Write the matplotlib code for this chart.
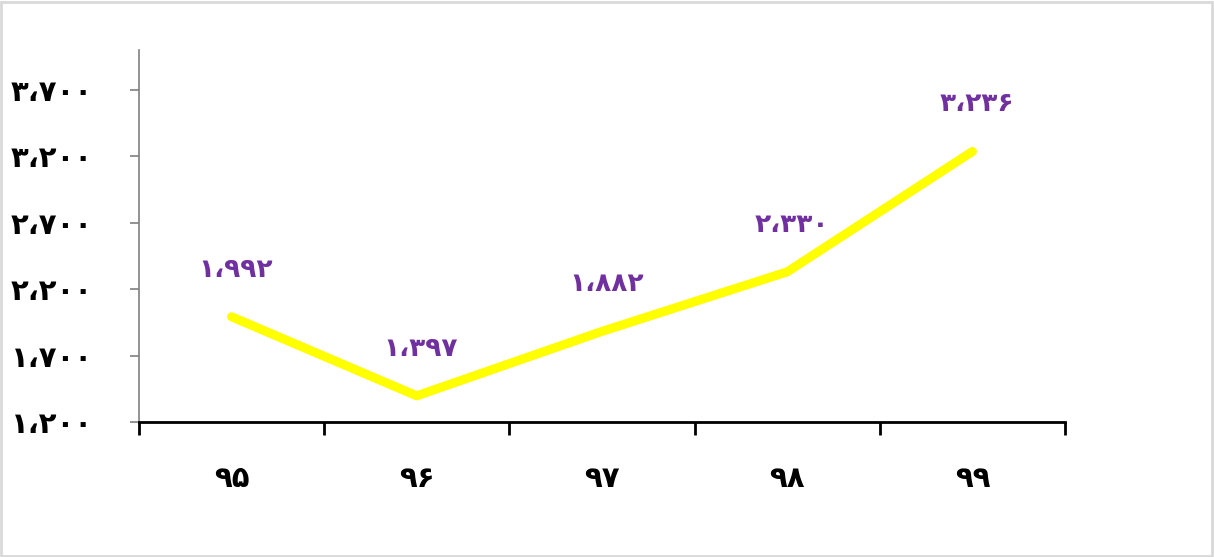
"""Yearly totals, Persian labels, yellow line."""

import matplotlib

matplotlib.use("Agg")

import matplotlib.pyplot as plt
from matplotlib.patches import Rectangle

years = ["۹۵", "۹۶", "۹۷", "۹۸", "۹۹"]
values = [1992, 1397, 1882, 2330, 3236]
y_ticks = [1200, 1700, 2200, 2700, 3200, 3700]

FA_DIGITS = str.maketrans("0123456789", "۰۱۲۳۴۵۶۷۸۹")


def fa_number(n):
    return f"{n:,}".replace(",", "،").translate(FA_DIGITS)


plt.rcParams["font.family"] = ["DejaVu Sans"]

fig = plt.figure(figsize=(12.14, 5.57), dpi=100)
ax = fig.add_axes([139 / 1214, 1 - 422 / 557, 926 / 1214, 372 / 557])

x = list(range(len(years)))
ax.plot(x, values, color="#FFFF00", lw=6.5, solid_capstyle="round",
        solid_joinstyle="round", zorder=3)
for xi, v in zip(x, values):
    ax.annotate(fa_number(v), (xi, v), xytext=(3, 34), textcoords="offset points",
                ha="center", va="center", color="#7030A0", fontsize=19,
                fontweight="bold")

ax.set_xlim(-0.5, len(years) - 0.5)
ax.set_ylim(1200, 4000)
ax.set_yticks(y_ticks)
ax.set_yticklabels([fa_number(t) for t in y_ticks], fontsize=21, fontweight="bold")
ax.set_xticks(x)
ax.set_xticklabels(years, fontsize=21, fontweight="bold")
ax.set_xticks([i - 0.5 for i in range(len(years) + 1)], minor=True)

ax.tick_params(axis="x", which="major", length=0, pad=31)
ax.tick_params(axis="x", which="minor", length=9, width=2, color="black",
               direction="out")
ax.tick_params(axis="y", length=6.5, width=1.2, color="#808080", pad=27)
for lbl in ax.get_yticklabels():
    lbl.set_horizontalalignment("right")

ax.spines[["top", "right"]].set_visible(False)
ax.spines["left"].set_color("#808080")
ax.spines["left"].set_linewidth(1.2)
ax.spines["bottom"].set_color("black")
ax.spines["bottom"].set_linewidth(2)

fig.patches.append(Rectangle((0.001, 0.002), 0.997, 0.995, transform=fig.transFigure,
                             fill=False, edgecolor="#d9d9d9", lw=2))

fig.savefig("out.png", dpi=100)
